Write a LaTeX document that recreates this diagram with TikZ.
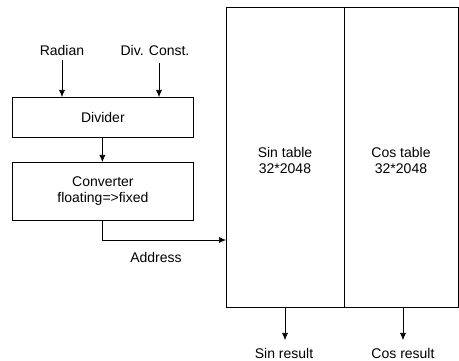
\documentclass[tikz,border=0pt]{standalone}
\usepackage{fontspec}
\setmainfont{Liberation Sans}
\usetikzlibrary{arrows.meta}
\begin{document}
\begin{tikzpicture}[x=1pt,y=-1pt,
  lbl/.style={font=\fontsize{14}{16}\selectfont, inner sep=0pt, align=center},
  blk/.style={draw, line width=0.8pt},
  arr/.style={draw, line width=0.6pt, -{Latex[length=7pt,width=6pt]}}]
\useasboundingbox (0,0) rectangle (459,361);
% boxes
\node[blk, minimum width=181pt, minimum height=40pt, anchor=north west, lbl] (div) at (12,97) {Divider};
\node[blk, minimum width=181pt, minimum height=58pt, anchor=north west, lbl] (conv) at (12,162) {Converter\\floating=>fixed};
\node[blk, minimum width=118pt, minimum height=300pt, anchor=north west] (sin) at (226,7) {};
\node[blk, minimum width=114pt, minimum height=300pt, anchor=north west] (cos) at (344,7) {};
\node[lbl] (sint) at (285,160) {Sin table\\32*2048};
\node[lbl] (cost) at (401,160) {Cos table\\32*2048};
% labels
\node[lbl] (rad) at (62,50) {Radian};
\node[lbl] (dc) at (155,50) {Div. Const.};
\node[lbl] (addr) at (156,257) {Address};
\node[lbl] (sr) at (284,353) {Sin result};
\node[lbl] (cr) at (403,353) {Cos result};
% connectors
\draw[arr] (rad.south) ++(0,5) coordinate (r0) -- (r0 |- div.north);
\draw[arr] (159,63) coordinate (d0) -- (d0 |- div.north);
\draw[arr] (div.south) ++(-0.5,0) coordinate (v0) -- (v0 |- conv.north);
\coordinate (a0) at (102,220);
\draw[arr] (a0) -- (102,240) -- (226,240);
\coordinate (s0) at (285,307);
\coordinate (s1) at (285,340);
\draw[arr] (s0) -- (s1);
\coordinate (c0) at (403,307);
\coordinate (c1) at (403,340);
\draw[arr] (c0) -- (c1);
\end{tikzpicture}
\end{document}
